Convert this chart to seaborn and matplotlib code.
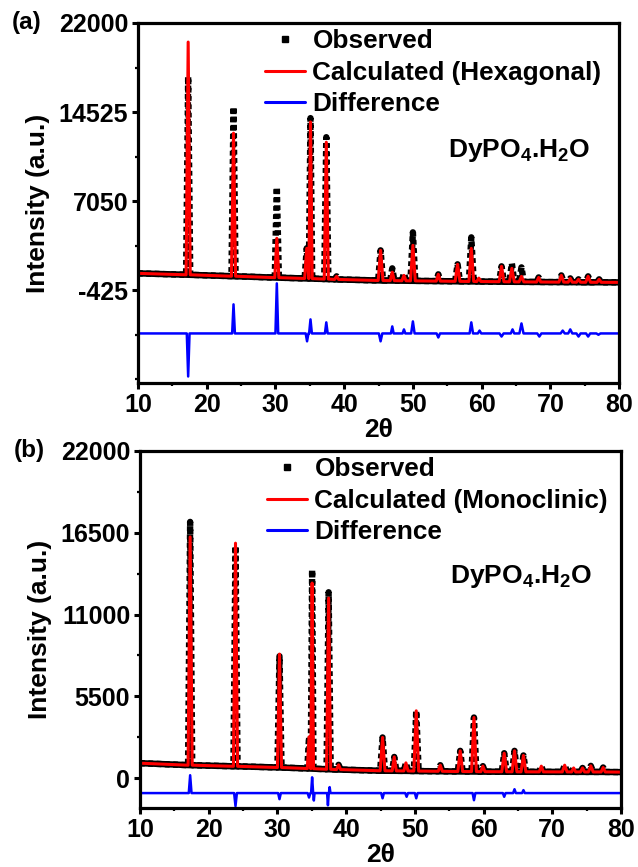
import numpy as np
import pandas as pd
import matplotlib
matplotlib.use("Agg")
import matplotlib.pyplot as plt
from matplotlib.lines import Line2D
from matplotlib.ticker import FixedLocator, AutoMinorLocator, MultipleLocator
import seaborn as sns

# ---------------- data: panel (a) hexagonal refinement ----------------
peaks_a = [17.3, 23.9, 30.2, 34.55, 35.1, 37.4, 38.9, 45.3, 47.0, 48.7, 50.0, 53.7,
           56.5, 58.5, 59.6, 62.9, 64.4, 65.8, 68.3, 71.6, 72.9, 74.1, 75.5, 77.1]
calc_a = [20400, 12760, 3940, 3100, 13700, 12000, 750, 2930, 1100, 830, 3350, 920,
          1760, 3100, 600, 1590, 1420, 750, 660, 830, 580, 500, 750, 500]
obs_a = [17500, 14950, 8220, 3100, 14020, 12420, 750, 2930, 1420, 1000, 4440, 920,
         1760, 4020, 600, 1590, 1840, 1500, 660, 830, 580, 500, 750, 500]
foot_a = [880, 760, 640, 570, 560, 520, 490, 400, 390, 380, 370, 350,
          330, 320, 315, 300, 290, 285, 275, 265, 260, 255, 250, 248]
width_a = [0.3, 0.3, 0.3, 0.3, 0.25, 0.3, 0.3, 0.35, 0.3, 0.3, 0.35, 0.3,
           0.35, 0.35, 0.3, 0.35, 0.35, 0.35, 0.3, 0.35, 0.3, 0.3, 0.35, 0.3]
ends_a = [(10, 1000), (80, 244)]

diff_pos_a = [17.3, 23.9, 30.2, 34.6, 35.1, 37.4, 45.3, 47.0, 48.7, 50.0, 53.7,
              58.5, 59.7, 62.9, 64.5, 65.8, 68.4, 71.8, 72.9, 74.1, 75.5, 77.0]
diff_a = [-7650, -1600, 160, -4700, -2860, -3110, -4700, -3450, -3700, -3030, -4380,
          -3110, -3800, -4300, -3700, -3200, -4300, -3800, -3700, -4300, -4300, -4150]
diff_w_a = [0.2, 0.2, 0.2, 0.2, 0.2, 0.2, 0.25, 0.2, 0.2, 0.25, 0.25,
            0.25, 0.25, 0.3, 0.25, 0.3, 0.3, 0.3, 0.3, 0.3, 0.3, 0.3]
diff_base_a = -4040

# ---------------- data: panel (b) monoclinic refinement ----------------
peaks_b = [17.3, 23.9, 30.3, 34.6, 35.05, 37.45, 38.9, 45.3, 47.0, 48.7, 50.2, 53.7,
           56.6, 58.6, 59.9, 63.0, 64.5, 65.8, 68.4, 71.8, 73.1, 74.4, 75.6, 77.4]
calc_b = [16220, 15800, 8345, 2780, 13120, 12110, 900, 2740, 1430, 1030, 4530, 875,
          1840, 4080, 810, 1680, 1840, 1530, 810, 875, 690, 690, 830, 720]
obs_b = [17230, 15600, 8200, 2780, 14000, 12500, 900, 2740, 1430, 1030, 4530, 875,
         1840, 4080, 810, 1680, 1840, 1530, 810, 875, 690, 690, 830, 720]
foot_b = [875, 800, 720, 650, 640, 600, 580, 500, 495, 490, 480, 465,
          450, 445, 440, 435, 432, 430, 428, 425, 423, 422, 421, 420]
width_b = [0.3, 0.3, 0.3, 0.25, 0.2, 0.3, 0.3, 0.35, 0.3, 0.3, 0.35, 0.3,
           0.35, 0.35, 0.3, 0.35, 0.35, 0.35, 0.3, 0.35, 0.3, 0.3, 0.35, 0.3]
ends_b = [(10, 1010), (80, 410)]

diff_pos_b = [17.3, 23.9, 30.3, 34.6, 35.05, 35.3, 37.35, 37.6, 45.3, 48.8, 50.2,
              58.6, 63.0, 64.5, 65.8]
diff_b = [200, -1880, -1410, -1300, 60, -1500, -1820, -600, -1350, -1250, -1350,
          -1480, -1250, -740, -800]
diff_w_b = [0.2, 0.2, 0.2, 0.2, 0.15, 0.1, 0.12, 0.12, 0.2, 0.2, 0.2,
            0.2, 0.2, 0.2, 0.2]
diff_base_b = -1000

yticks_a = [-425, 7050, 14525, 22000]
yticks_b = [0, 5500, 11000, 16500, 22000]
xticks = [10, 20, 30, 40, 50, 60, 70, 80]
labels = ["Observed", "Calculated (Hexagonal)", "Calculated (Monoclinic)", "Difference"]


def profile(ends, pos, heights, feet, widths):
    xs, ys = [ends[0][0]], [ends[0][1]]
    for p, h, f, w in zip(pos, heights, feet, widths):
        xs += [p - w, p, p + w]
        ys += [f, h, f]
    xs.append(ends[1][0])
    ys.append(ends[1][1])
    return pd.DataFrame({"x": xs, "y": ys})


def background(ends, pos, feet):
    xs = [ends[0][0]] + list(pos) + [ends[1][0]]
    ys = [ends[0][1]] + list(feet) + [ends[1][1]]
    return pd.DataFrame({"x": xs, "y": ys})


sns.set_style("ticks")
plt.rcParams["font.family"] = ["Liberation Sans", "DejaVu Sans"]
plt.rcParams["font.weight"] = "bold"
plt.rcParams["axes.labelweight"] = "bold"
plt.rcParams["axes.unicode_minus"] = False
for k in ["text.color", "axes.labelcolor", "xtick.color", "ytick.color", "axes.edgecolor"]:
    plt.rcParams[k] = "black"
plt.rcParams["mathtext.fontset"] = "custom"
plt.rcParams["mathtext.rm"] = "Liberation Sans:bold"
plt.rcParams["mathtext.bf"] = "Liberation Sans:bold"
plt.rcParams["mathtext.it"] = "Liberation Sans:bold"

fig = plt.figure(figsize=(6.38, 8.67), dpi=100)
ax_a = fig.add_axes([0.2163, 0.5582, 0.754, 0.4153])
ax_b = fig.add_axes([0.2194, 0.0681, 0.754, 0.4118])


def draw(ax, ends, pos, calc, obs, feet, widths, dpos, dval, dw, dbase,
         yticks, ylim, calc_label, tag):
    df_obs = profile(ends, pos, obs, feet, widths)
    df_bg = background(ends, pos, feet)
    df_calc = profile(ends, pos, calc, feet, widths)
    df_diff = profile([(10, dbase), (80, dbase)], dpos, dval, [dbase] * len(dpos), dw)
    # observed: dense square markers -> solid along background, dotted on the peaks
    sns.lineplot(data=df_bg, x="x", y="y", ax=ax, color="black", lw=4.6,
                 sort=False, estimator=None)
    sns.lineplot(data=df_obs, x="x", y="y", ax=ax, color="black", lw=4.6,
                 sort=False, estimator=None, dashes=False)
    ax.lines[-1].set_linestyle((0, (0.75, 0.55)))
    sns.lineplot(data=df_calc, x="x", y="y", ax=ax, color="#ff0000", lw=2.2,
                 sort=False, estimator=None)
    sns.lineplot(data=df_diff, x="x", y="y", ax=ax, color="#0000ff", lw=1.8,
                 sort=False, estimator=None)
    ax.set_xlim(10, 80)
    ax.set_ylim(*ylim)
    ax.xaxis.set_major_locator(FixedLocator(xticks))
    ax.xaxis.set_minor_locator(MultipleLocator(5))
    ax.yaxis.set_major_locator(FixedLocator(yticks))
    ax.yaxis.set_minor_locator(AutoMinorLocator(2))
    ax.tick_params(which="major", direction="out", length=4, width=2.2,
                   labelsize=18, pad=3, colors="black")
    ax.tick_params(which="minor", direction="out", length=2, width=1.6, colors="black")
    for sp in ax.spines.values():
        sp.set_linewidth(2.3)
        sp.set_color("black")
        sp.set_visible(True)
    for lab in ax.get_xticklabels() + ax.get_yticklabels():
        lab.set_fontweight("bold")
    ax.set_xlabel("2θ", fontsize=19, fontweight="bold", labelpad=1)
    ax.set_ylabel("Intensity (a.u.)", fontsize=19, fontweight="bold", labelpad=6)
    handles = [
        Line2D([], [], marker="s", color="black", ls="none", markersize=5),
        Line2D([], [], color="#ff0000", lw=2.2),
        Line2D([], [], color="#0000ff", lw=2.2),
    ]
    ax.legend(handles, ["Observed", calc_label, "Difference"], loc="upper left",
              bbox_to_anchor=(0.265, 0.982), frameon=False,
              prop={"weight": "bold", "size": 18.8}, handlelength=1.5,
              handletextpad=0.3, labelspacing=0.28, borderpad=0, borderaxespad=0)
    ax.text(0.645, 0.647, r"DyPO$_{4}$.H$_{2}$O", transform=ax.transAxes,
            fontsize=19, fontweight="bold", ha="left", va="center")
    ax.text(-0.262, 1.0, tag, transform=ax.transAxes, fontsize=17.5,
            fontweight="bold", ha="left", va="center")


draw(ax_a, ends_a, peaks_a, calc_a, obs_a, foot_a, width_a,
     diff_pos_a, diff_a, diff_w_a, diff_base_a,
     yticks_a, (-8200, 22000), labels[1], "(a)")
draw(ax_b, ends_b, peaks_b, calc_b, obs_b, foot_b, width_b,
     diff_pos_b, diff_b, diff_w_b, diff_base_b,
     yticks_b, (-2000, 22000), labels[2], "(b)")

fig.savefig("out.png", dpi=100)
